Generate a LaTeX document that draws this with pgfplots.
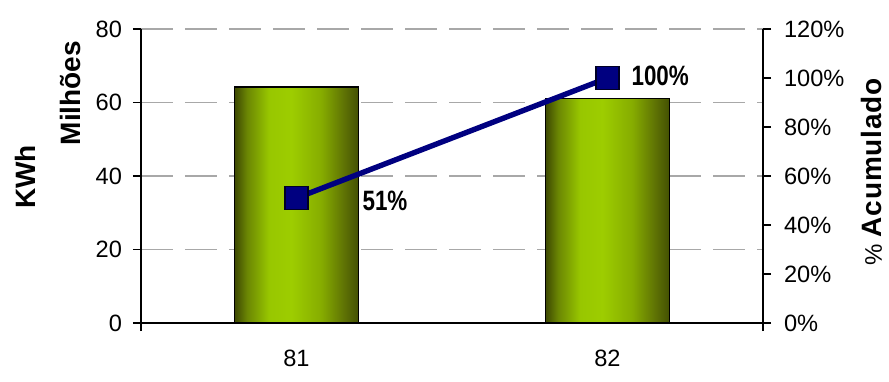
\documentclass[border=0pt]{standalone}
\usepackage{pgfplots}
\pgfplotsset{compat=1.18}
\usepackage{fontspec}
\setmainfont{Liberation Sans}
\definecolor{navyL}{HTML}{000080}
\definecolor{gridG}{HTML}{A8A8A8}
\definecolor{gA}{HTML}{3C4702}
\definecolor{gB}{HTML}{6A8503}
\definecolor{gC}{HTML}{98C700}
\definecolor{gD}{HTML}{9DCD00}
\definecolor{gE}{HTML}{86AC00}
\definecolor{gF}{HTML}{5F7304}
\definecolor{gG}{HTML}{435003}
\pgfdeclarehorizontalshading{barshade}{100bp}{color(0bp)=(gA); color(25bp)=(gA); color(30bp)=(gB); color(39bp)=(gC); color(48bp)=(gD); color(60bp)=(gE); color(69bp)=(gF); color(75bp)=(gG); color(100bp)=(gG)}
\begin{document}
\begin{tikzpicture}
\pgfplotsset{
  base/.style={
    scale only axis, width=311pt, height=147pt,
    xmin=-0.5, xmax=1.5,
    /pgf/number format/assume math mode=true,
    tick label style={font=\fontsize{11.8}{13}\selectfont},
    axis line style={-, line width=0.8pt, black},
    clip=false,
  },
  greenbar/.style={ybar, bar width=0.4, bar shift=0pt, draw=black, line width=0.6pt,
    shading=barshade},
}
\begin{axis}[base,
  ymin=0, ymax=80, ytick={0,20,40,60,80},
  axis x line*=bottom, axis y line*=left,
  tick style={black, line width=0.8pt},
  tick align=outside, major tick length=4pt,
  xtick={0,1}, xticklabels={81,82},
  xtick style={draw=none},
  extra x ticks={-0.5,1.5}, extra x tick labels={},
  extra x tick style={xtick style={draw=black, line width=0.8pt}},
  xticklabel style={yshift=-6pt},
  yticklabel style={xshift=-2pt},
  ymajorgrids, grid style={gridG, line width=0.6pt, dash pattern=on 16pt off 6pt},
]
\addplot[greenbar] coordinates {(0,64.2)};
\addplot[greenbar] coordinates {(1,61)};
\node[rotate=90, font=\bfseries\fontsize{14}{16}\selectfont] at (rel axis cs:-0.1865,0.497) {KWh};
\node[rotate=90, font=\bfseries\fontsize{14}{16}\selectfont] at (rel axis cs:-0.114,0.782) {Milhões};
\node[rotate=90, font=\fontsize{14}{16}\selectfont] at (rel axis cs:1.175,0.515) {\fontsize{12}{14}\selectfont\%~\bfseries\addfontfeature{LetterSpace=3}\fontsize{14}{16}\selectfont Acumulado};
\end{axis}
\begin{axis}[base,
  ymin=0, ymax=120, ytick={0,20,40,60,80,100,120},
  axis y line*=right, axis x line=none, xtick=\empty,
  tick style={black, line width=0.8pt},
  tick align=outside, major tick length=4pt,
  yticklabel={\pgfmathprintnumber{\tick}\%},
  yticklabel style={xshift=3pt},
]
\addplot[navyL, line width=2.7pt, mark=square*, mark size=5.75pt,
  mark options={fill=navyL, draw=black!70!navyL, line width=0.6pt, solid}]
  coordinates {(0,51) (1,100)};
\node[anchor=west, font=\bfseries\fontsize{14}{16}\selectfont, xshift=29.5pt, yshift=-1.5pt] at (axis cs:0,51) {\scalebox{0.8}[1]{51\%}};
\node[anchor=west, font=\bfseries\fontsize{14}{16}\selectfont, xshift=8.5pt, yshift=1pt] at (axis cs:1,100) {\scalebox{0.8}[1]{100\%}};
\end{axis}
\pgfresetboundingbox
\useasboundingbox ([shift={(-70.5pt,-29pt)}]current axis.south west) rectangle ([shift={(63pt,14.5pt)}]current axis.north east);
\end{tikzpicture}
\end{document}
